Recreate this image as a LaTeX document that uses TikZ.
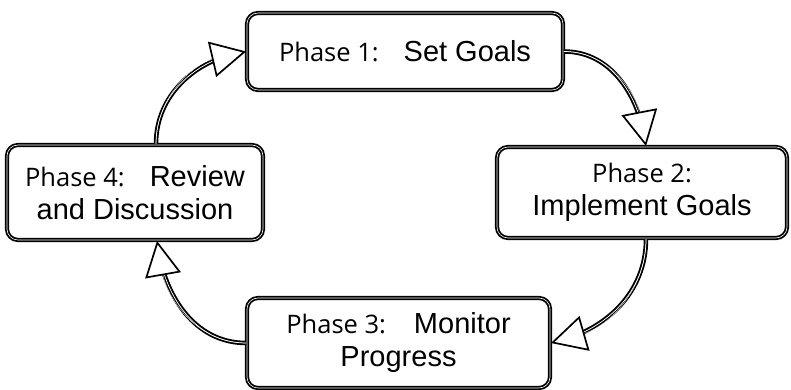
\documentclass[tikz,border=0pt]{standalone}
\usepackage{fontspec}
\setmainfont{Liberation Sans}
\newfontfamily\phasefont{Open Sans}
\usetikzlibrary{arrows.meta}
\newcommand\ph[1]{{\phasefont\fontsize{25.5}{33}\selectfont Phase #1:}}
\tikzset{
  x=1pt, y=1pt,
  phasebox/.style={draw=black, line width=1.8pt, double=white, double distance=0.6pt,
    rounded corners=11pt, inner sep=0pt, align=center,
    font=\fontsize{29}{33}\selectfont},
  connline/.style={draw=black, line width=1.9pt, double=white, double distance=0.7pt, shorten >=16pt},
  conntip/.style={draw=white, line width=0.3pt,
    -{Triangle[open, fill=white, color=black, length=35pt, width=36pt, line width=1.7pt]}},
}
\begin{document}
\begin{tikzpicture}
\useasboundingbox (0,0) rectangle (791,390);
\node[phasebox, minimum width=316, minimum height=77] (b1) at (405,338.5) {\ph{1}\hspace{25pt}Set Goals};
\node[phasebox, minimum width=290, minimum height=91] (b2) at (642,197.5) {\ph{2}\\Implement Goals};
\node[phasebox, minimum width=303, minimum height=90] (b3) at (398.5,47) {\ph{3}\hspace{28pt}Monitor\\Progress};
\node[phasebox, minimum width=256, minimum height=95] (b4) at (135,197.5) {\ph{4}\hspace{25pt}Review\\and Discussion};
\coordinate (b2n) at ([xshift=4pt]b2.north);
\coordinate (b2s) at ([xshift=4pt]b2.south);
\coordinate (b4s) at ([xshift=22pt]b4.south);
\coordinate (b4n) at ([xshift=21pt]b4.north);
\draw[connline] (b1.east) to[out=0, in=101] (b2n);
\draw[conntip]  (b1.east) to[out=0, in=101] (b2n);
\draw[connline] (b2s) to[out=-90, in=16] (b3.east);
\draw[conntip]  (b2s) to[out=-90, in=16] (b3.east);
\draw[connline] (b3.west) to[out=180, in=-80] (b4s);
\draw[conntip]  (b3.west) to[out=180, in=-80] (b4s);
\draw[connline] (b4n) to[out=90, in=193] (b1.west);
\draw[conntip]  (b4n) to[out=90, in=193] (b1.west);
\end{tikzpicture}
\end{document}
